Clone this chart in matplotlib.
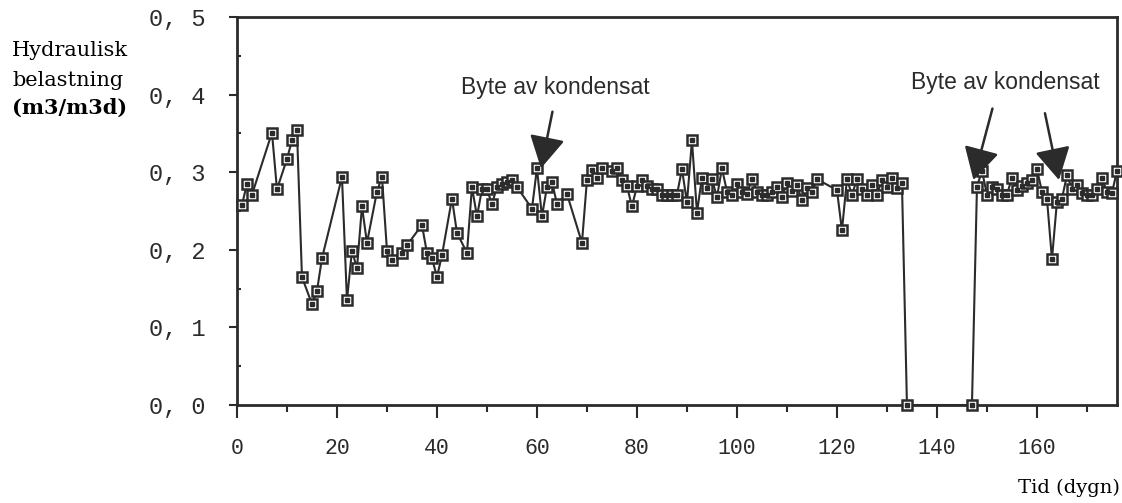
import matplotlib.pyplot as plt
import numpy as np

# Data (day, hydraulic load)
days = [1, 2, 3, 7, 8, 10, 11, 12, 13, 15, 16, 17, 21, 22, 23, 24, 25, 26, 28, 29,
        30, 31, 33, 34, 37, 38, 39, 40, 41, 43, 44, 46, 47, 48, 49, 50, 51, 52, 53, 54,
        55, 56, 59, 60, 61, 62, 63, 64, 66, 69, 70, 71, 72, 73, 75, 76, 77, 78, 79, 80,
        81, 82, 83, 84, 85, 86, 87, 88, 89, 90, 91, 92, 93, 94, 95, 96, 97, 98, 99, 100,
        101, 102, 103, 104, 105, 106, 107, 108, 109, 110, 111, 112, 113, 114, 115, 116,
        120, 121, 122, 123, 124, 125, 126, 127, 128, 129, 130, 131, 132, 133, 134,
        147, 148, 149, 150, 151, 152, 153, 154, 155, 156, 157, 158, 159, 160, 161, 162,
        163, 164, 165, 166, 167, 168, 169, 170, 171, 172, 173, 174, 175, 176]
load = [0.258, 0.285, 0.271, 0.351, 0.278, 0.317, 0.341, 0.354, 0.165, 0.130, 0.147, 0.189,
        0.294, 0.135, 0.199, 0.176, 0.256, 0.209, 0.275, 0.294,
        0.199, 0.187, 0.196, 0.206, 0.232, 0.196, 0.189, 0.165, 0.193, 0.266, 0.222, 0.196,
        0.281, 0.243, 0.278, 0.278, 0.259, 0.281, 0.285, 0.288,
        0.290, 0.281, 0.253, 0.305, 0.243, 0.281, 0.288, 0.259, 0.272, 0.209, 0.290, 0.303,
        0.292, 0.305, 0.301, 0.305, 0.290, 0.282, 0.256, 0.282,
        0.290, 0.282, 0.278, 0.279, 0.271, 0.271, 0.271, 0.271, 0.304, 0.261, 0.341, 0.248,
        0.293, 0.280, 0.291, 0.268, 0.305, 0.275, 0.271, 0.285,
        0.275, 0.272, 0.291, 0.275, 0.271, 0.271, 0.275, 0.281, 0.268, 0.286, 0.276, 0.283,
        0.264, 0.280, 0.274, 0.291,
        0.277, 0.225, 0.291, 0.271, 0.291, 0.279, 0.271, 0.283, 0.271, 0.290, 0.281, 0.293,
        0.280, 0.286, 0.0,
        0.0, 0.281, 0.302, 0.271, 0.281, 0.278, 0.270, 0.271, 0.293, 0.277, 0.282, 0.286,
        0.290, 0.304, 0.275, 0.266,
        0.188, 0.262, 0.266, 0.296, 0.279, 0.283, 0.273, 0.271, 0.271, 0.279, 0.292, 0.275,
        0.273, 0.302]

yticks = [0.0, 0.1, 0.2, 0.3, 0.4, 0.5]
ytick_labels = ["0, 0", "0, 1", "0, 2", "0, 3", "0, 4", "0, 5"]
xticks = [0, 20, 40, 60, 80, 100, 120, 140, 160]

note = "Byte av kondensat"
ink = "#2b2b2b"

fig = plt.figure(figsize=(11.22, 5.03), dpi=100)
ax = fig.add_axes([0.2112, 0.1948, 0.7843, 0.7714])

ax.plot(days, load, color=ink, linewidth=1.5, marker="s", markersize=7.5,
        markerfacecolor="white", markeredgecolor=ink, markeredgewidth=1.8, clip_on=False, zorder=3)
ax.plot(days, load, linestyle="none", marker="s", markersize=2.2, color=ink, clip_on=False, zorder=4)

ax.set_xlim(0, 176)
ax.set_ylim(0, 0.5)

ax.set_xticks(xticks)
ax.set_xticklabels([str(t) for t in xticks], family="Liberation Mono", fontsize=15.5)
ax.set_xticks(np.arange(10, 176, 20), minor=True)
ax.set_yticks(yticks)
ax.set_yticklabels(ytick_labels, family="Liberation Mono", fontsize=17)
ax.set_yticks(np.arange(0.05, 0.5, 0.1), minor=True)

ax.tick_params(axis="x", which="major", direction="out", length=9, width=1.5, pad=15, colors=ink)
ax.tick_params(axis="x", which="minor", direction="out", length=5, width=1.5, colors=ink)
ax.tick_params(axis="y", which="major", direction="out", length=6, width=1.5, pad=17, colors=ink)
ax.tick_params(axis="y", which="minor", direction="in", length=3, width=1.5, colors=ink)

for s in ax.spines.values():
    s.set_linewidth(2)
    s.set_color(ink)

# annotations
arrow = dict(arrowstyle="-|>,head_length=0.9,head_width=0.5", color=ink, linewidth=1.8,
             mutation_scale=22, shrinkA=0, shrinkB=0)
ax.text(63.7, 0.409, note, ha="center", va="center", family="Liberation Sans", fontsize=16.5, color=ink)
ax.annotate("", xy=(60.8, 0.305), xytext=(63.1, 0.378), arrowprops=arrow)
ax.text(153.6, 0.415, note, ha="center", va="center", family="Liberation Sans", fontsize=16.5, color=ink)
ax.annotate("", xy=(147.3, 0.29), xytext=(151.1, 0.382), arrowprops=arrow)
ax.annotate("", xy=(164.4, 0.29), xytext=(161.6, 0.376), arrowprops=arrow)

# axis titles
fig.text(12 / 1122, 1 - 50 / 503, "Hydraulisk", family="DejaVu Serif", fontsize=15, va="center", ha="left")
fig.text(12 / 1122, 1 - 80 / 503, "belastning", family="DejaVu Serif", fontsize=15, va="center", ha="left")
fig.text(12 / 1122, 1 - 108 / 503, "(m3/m3d)", family="DejaVu Serif", fontsize=15,
         fontweight="bold", va="center", ha="left")
fig.text(1120 / 1122, 1 - 488 / 503, "Tid (dygn)", family="DejaVu Serif", fontsize=14,
         va="center", ha="right")

fig.savefig("out.png", dpi=100)
plt.close(fig)
